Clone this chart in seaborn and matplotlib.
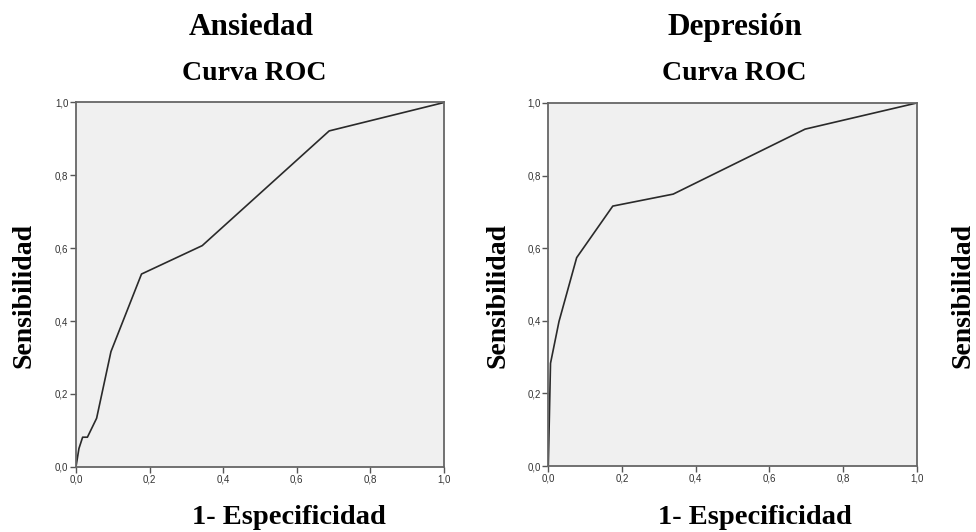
import matplotlib
matplotlib.use("Agg")
import matplotlib.pyplot as plt
import seaborn as sns
import pandas as pd

# Data
ans_fpr = [0.0, 0.008, 0.018, 0.031, 0.056, 0.095, 0.178, 0.343, 0.688, 1.0]
ans_tpr = [0.0, 0.05, 0.081, 0.081, 0.133, 0.316, 0.529, 0.607, 0.922, 1.0]
dep_fpr = [0.0, 0.003, 0.006, 0.029, 0.077, 0.175, 0.339, 0.697, 1.0]
dep_tpr = [0.0, 0.14, 0.283, 0.398, 0.574, 0.716, 0.749, 0.928, 1.0]
tick_vals = [0.0, 0.2, 0.4, 0.6, 0.8, 1.0]
tick_labels = ["0,0", "0,2", "0,4", "0,6", "0,8", "1,0"]
panel_titles = ["Ansiedad", "Depresión"]
subtitle = "Curva ROC"
xlab = "1- Especificidad"
ylab = "Sensibilidad"

sns.set_theme(style="white")
W, H = 976, 532
fig = plt.figure(figsize=(W / 100, H / 100), dpi=100)

serif = ["Liberation Serif", "DejaVu Serif"]
sans = ["Liberation Sans", "DejaVu Sans"]

panels = [
    (ans_fpr, ans_tpr, 76, 444, 102.5, 466.7, panel_titles[0], 251, 254, 289, 24),
    (dep_fpr, dep_tpr, 548.3, 916.7, 103, 466, panel_titles[1], 735, 734, 755, 498),
]

for fpr, tpr, x0, x1, y1, y0, title, tx, sx, xlx, ylx in panels:
    ax = fig.add_axes([x0 / W, 1 - y0 / H, (x1 - x0) / W, (y0 - y1) / H])
    ax.set_facecolor("#f0f0f0")
    df = pd.DataFrame({"fpr": fpr, "tpr": tpr})
    sns.lineplot(data=df, x="fpr", y="tpr", ax=ax, color="#2a2a2a",
                 linewidth=1.2, sort=False, estimator=None)
    ax.set_xlim(0, 1)
    ax.set_ylim(0, 1)
    ax.set_xticks(tick_vals)
    ax.set_yticks(tick_vals)
    ax.set_xticklabels(tick_labels, fontfamily=sans, fontsize=7, color="#333333")
    ax.set_yticklabels(tick_labels, fontfamily=sans, fontsize=7, color="#333333")
    ax.tick_params(axis="both", direction="out", length=4, width=1,
                   color="#555555", pad=1.5, bottom=True, left=True)
    ax.set_xlabel("")
    ax.set_ylabel("")
    for s in ax.spines.values():
        s.set_color("#666666")
        s.set_linewidth(1.3)
    fig.text(tx / W, 1 - 28 / H, title, ha="center", va="center",
             fontfamily=serif, fontweight="bold", fontsize=22.5, color="black")
    fig.text(sx / W, 1 - 73 / H, subtitle, ha="center", va="center",
             fontfamily=serif, fontweight="bold", fontsize=20, color="black")
    fig.text(xlx / W, 1 - 517 / H, xlab, ha="center", va="center",
             fontfamily=serif, fontweight="bold", fontsize=20.5, color="black")
    fig.text(ylx / W, 1 - 295 / H, ylab, ha="center", va="center", rotation=90,
             fontfamily=serif, fontweight="bold", fontsize=20, color="black")

# partially visible label of a third panel at the right edge
fig.text(963 / W, 1 - 295 / H, ylab, ha="center", va="center", rotation=90,
         fontfamily=serif, fontweight="bold", fontsize=20, color="black")

fig.savefig("out.png", dpi=100, facecolor="white")
